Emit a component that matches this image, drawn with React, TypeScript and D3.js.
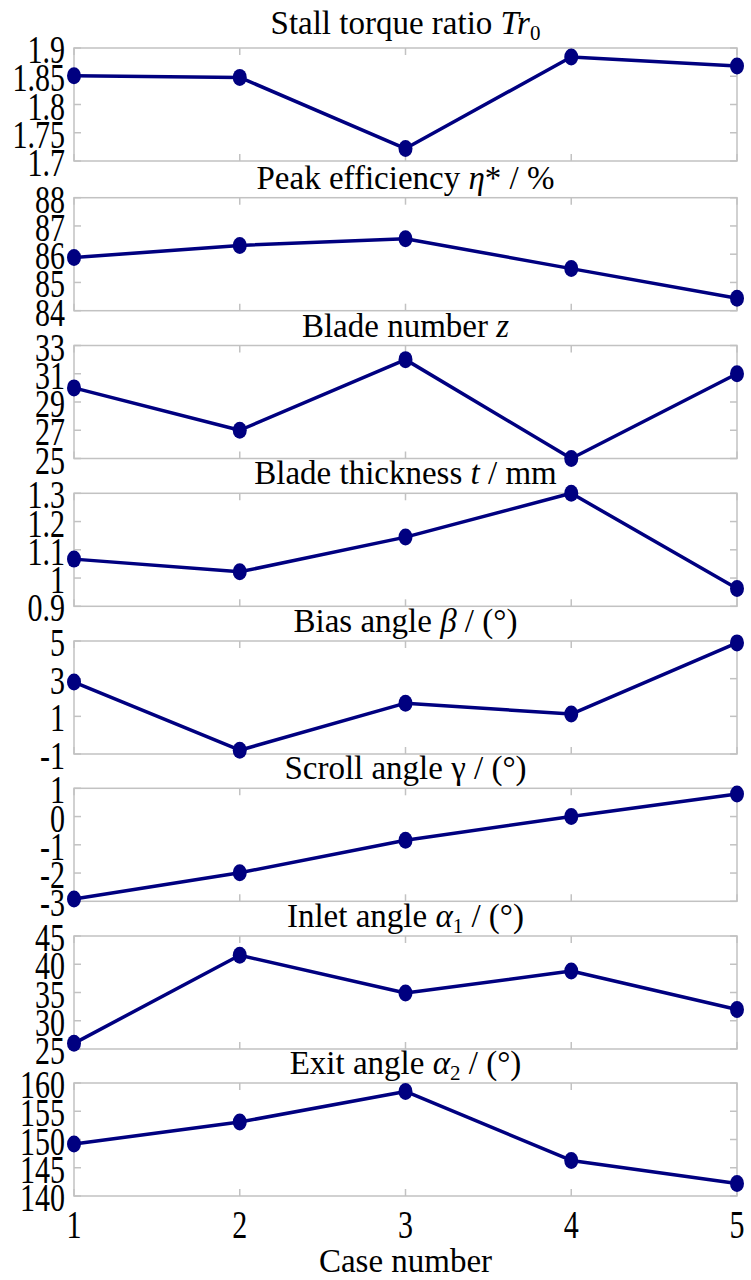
import React from 'react';
import * as d3 from 'd3';

// case numbers on the shared x axis
const cases = [1, 2, 3, 4, 5];

// values read per case
const stallTorque = [1.851, 1.848, 1.722, 1.884, 1.868];
const peakEfficiency = [85.88, 86.31, 86.55, 85.49, 84.44];
const bladeNumber = [30, 27, 32, 25, 31];
const bladeThickness = [1.067, 1.022, 1.145, 1.3, 0.963];
const biasAngle = [2.82, -0.8, 1.7, 1.12, 4.9];
const scrollAngle = [-2.92, -1.99, -0.84, 0.0, 0.8];
const inletAngle = [26, 41.6, 34.9, 38.8, 32.0];
const exitAngle = [149.2, 153.1, 158.5, 146.3, 142.2];

// y tick labels per panel
const stallTicks = [1.7, 1.75, 1.8, 1.85, 1.9];
const efficiencyTicks = [84, 85, 86, 87, 88];
const bladeNumberTicks = [25, 27, 29, 31, 33];
const thicknessTicks = [0.9, 1, 1.1, 1.2, 1.3];
const biasTicks = [-1, 1, 3, 5];
const scrollTicks = [-3, -2, -1, 0, 1];
const inletTicks = [25, 30, 35, 40, 45];
const exitTicks = [140, 145, 150, 155, 160];

// panel titles, split into runs (italic / subscript)
type Run = { t: string; i?: boolean; sub?: boolean };
const titles: Run[][] = [
  [{ t: 'Stall torque ratio ' }, { t: 'Tr', i: true }, { t: '0', sub: true }],
  [{ t: 'Peak efficiency ' }, { t: 'η', i: true }, { t: '* / %' }],
  [{ t: 'Blade number ' }, { t: 'z', i: true }],
  [{ t: 'Blade thickness ' }, { t: 't', i: true }, { t: ' / mm' }],
  [{ t: 'Bias angle ' }, { t: 'β', i: true }, { t: ' / (°)' }],
  [{ t: 'Scroll angle γ / (°)' }],
  [{ t: 'Inlet angle ' }, { t: 'α', i: true }, { t: '1', sub: true }, { t: ' / (°)' }],
  [{ t: 'Exit angle ' }, { t: 'α', i: true }, { t: '2', sub: true }, { t: ' / (°)' }],
];
const xLabel = 'Case number';

const W = 751;
const H = 1280;
const left = 74;
const right = 737;
const panelTops = [48, 197.7, 345.5, 493.3, 641, 788.3, 936, 1083];
const panelH = 113;
const font = 'Liberation Serif';
const navy = '#000080';
const frame = '#c2c2c2';

const panels = [
  { values: stallTorque, ticks: stallTicks },
  { values: peakEfficiency, ticks: efficiencyTicks },
  { values: bladeNumber, ticks: bladeNumberTicks },
  { values: bladeThickness, ticks: thicknessTicks },
  { values: biasAngle, ticks: biasTicks },
  { values: scrollAngle, ticks: scrollTicks },
  { values: inletAngle, ticks: inletTicks },
  { values: exitAngle, ticks: exitTicks },
];

const x = d3.scaleLinear().domain([1, 5]).range([left, right]);

const Panel = ({ k }: { k: number }) => {
  const p = panels[k];
  const top = panelTops[k];
  const y = d3
    .scaleLinear()
    .domain(d3.extent(p.ticks) as [number, number])
    .range([top + panelH, top]);
  const line = d3
    .line<number>()
    .x((_, i) => x(cases[i]))
    .y((d) => y(d));

  return (
    <g>
      <rect x={left} y={top} width={right - left} height={panelH} fill="none" stroke={frame} strokeWidth={1.5} />
      {p.ticks.map((t) => (
        <g key={t}>
          <line x1={left} x2={left + 7} y1={y(t)} y2={y(t)} stroke={frame} strokeWidth={1.5} />
          <line x1={right - 7} x2={right} y1={y(t)} y2={y(t)} stroke={frame} strokeWidth={1.5} />
          <text
            transform={`translate(65,${y(t) + 15}) scale(1,1.3)`}
            textAnchor="end"
            fontFamily={font}
            fontSize={30}
          >
            {String(t)}
          </text>
        </g>
      ))}
      {cases.map((c) => (
        <g key={c}>
          <line x1={x(c)} x2={x(c)} y1={top} y2={top + 7} stroke={frame} strokeWidth={1.5} />
          <line x1={x(c)} x2={x(c)} y1={top + panelH - 7} y2={top + panelH} stroke={frame} strokeWidth={1.5} />
        </g>
      ))}
      <text
        x={(left + right) / 2}
        y={top - (k === 0 ? 14.5 : 9)}
        textAnchor="middle"
        fontFamily={font}
        fontSize={33}
      >
        {titles[k].map((r, idx) => {
          const prevSub = idx > 0 && titles[k][idx - 1].sub;
          return (
            <tspan
              key={idx}
              fontStyle={r.i ? 'italic' : undefined}
              fontSize={r.sub ? 21 : undefined}
              dy={r.sub ? 6 : prevSub ? -6 : undefined}
            >
              {r.t}
            </tspan>
          );
        })}
      </text>
      <path d={line(p.values) || ''} fill="none" stroke={navy} strokeWidth={3.5} strokeLinejoin="round" />
      {p.values.map((v, i) => (
        <ellipse key={i} cx={x(cases[i])} cy={y(v)} rx={7} ry={8.5} fill={navy} />
      ))}
    </g>
  );
};

const App = () => {
  const lastBottom = panelTops[panelTops.length - 1] + panelH;
  return (
    <svg width={W} height={H} style={{ position: 'absolute', left: 0, top: 0, display: 'block' }}>
      <rect width={W} height={H} fill="#fff" />
      {panels.map((_, k) => (
        <Panel key={k} k={k} />
      ))}
      {cases.map((c) => (
        <text
          key={c}
          transform={`translate(${x(c)},${lastBottom + 41.5}) scale(1,1.3)`}
          textAnchor="middle"
          fontFamily={font}
          fontSize={30}
        >
          {String(c)}
        </text>
      ))}
      <text x={(left + right) / 2} y={1272} textAnchor="middle" fontFamily={font} fontSize={33}>
        {xLabel}
      </text>
    </svg>
  );
};

export default App;
